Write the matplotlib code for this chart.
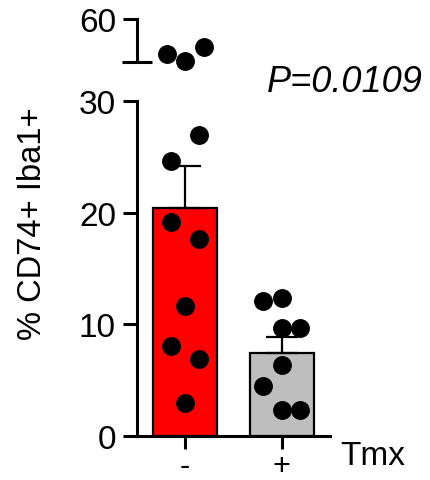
import numpy as np
import matplotlib
matplotlib.use('Agg')
import matplotlib.pyplot as plt

plt.rcParams['font.family'] = ['Liberation Sans', 'DejaVu Sans']

groups = ['-', '+']
red_vals = [27.0, 24.6, 19.2, 17.6, 11.6, 8.1, 6.9, 3.0, 40.5, 35.6, 30.7]
red_offs = [0.146, -0.146, -0.146, 0.146, 0, -0.146, 0.146, 0, 0.19, -0.19, 0]
gray_vals = [12.1, 12.4, 9.7, 9.7, 6.4, 4.5, 2.3, 2.3]
gray_offs = [-0.19, 0, 0, 0.19, 0, -0.19, 0, 0.19]
colors = ['#FF0000', '#BEBEBE']
p_text = 'P=0.0109'
brk = 30  # axis break value

vals = [np.array(red_vals), np.array(gray_vals)]
offs = [np.array(red_offs), np.array(gray_offs)]
means = [v.mean() for v in vals]
sems = [v.std(ddof=1) / np.sqrt(len(v)) for v in vals]

fig = plt.figure(figsize=(4.31, 4.81), dpi=100)
ax = fig.add_axes([137/431, 1-437/481, 193/431, 335/481])
axt = fig.add_axes([137/431, 1-63/481, 193/431, 43/481])

lw = 2.2
for a in (ax, axt):
    for s in ('top', 'right'):
        a.spines[s].set_visible(False)
    a.spines['left'].set_linewidth(lw)
    a.set_xlim(-0.5, 1.5)
    a.set_facecolor('none')

x = np.arange(len(groups))
ax.bar(x, means, width=0.667, color=colors, edgecolor='black', linewidth=1.6, zorder=1)
ax.errorbar(x, means, yerr=[np.zeros(2), sems], fmt='none', ecolor='black',
            elinewidth=1.6, capsize=11.5, capthick=1.6, zorder=2)
for i in range(len(groups)):
    lo = vals[i] < brk
    ax.scatter(x[i] + offs[i][lo], vals[i][lo], s=185, color='black', zorder=3, linewidths=0)
    axt.scatter(x[i] + offs[i][~lo], vals[i][~lo], s=185, color='black', zorder=3,
                linewidths=0, clip_on=False)

ax.set_ylim(0, brk)
ax.set_yticks([0, 10, 20, 30])
ax.set_yticks([brk], minor=True)
ax.spines['bottom'].set_linewidth(lw)
ax.set_xticks(x)
ax.set_xticklabels(groups, fontsize=22)
ax.tick_params(axis='y', which='major', length=10.2, width=lw, labelsize=24, pad=5)
ax.tick_params(axis='y', which='minor', direction='in', length=10.8, width=lw)
ax.tick_params(axis='x', length=9, width=lw, pad=2)

axt.set_ylim(brk, 60)
axt.set_yticks([60])
axt.set_yticks([brk], minor=True)
axt.spines['bottom'].set_visible(False)
axt.set_xticks([])
axt.tick_params(axis='y', which='major', length=10.2, width=lw, labelsize=24, pad=5)
axt.tick_params(axis='y', which='minor', direction='inout', length=21, width=lw)

fig.text(33/431, 1-224/481, '% CD74+ Iba1+', rotation=90, fontsize=23.5, ha='center', va='center')
fig.text(423/431, 1-83/481, p_text, fontsize=26, style='italic', ha='right', va='center')
fig.text(340/431, 1-457/481, 'Tmx', fontsize=24, ha='left', va='center')

fig.savefig('out.png', dpi=100)
